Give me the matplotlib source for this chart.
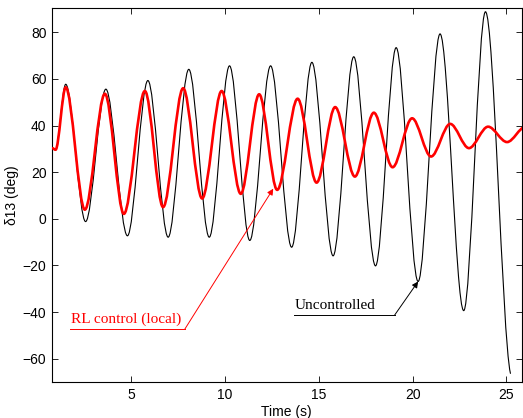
import matplotlib
matplotlib.use("Agg")
import matplotlib.pyplot as plt
from matplotlib.path import Path
from matplotlib.patches import PathPatch

# ---- data: extrema (time s, angle deg) ----
uncontrolled_t = [0.79, 0.97, 1.51, 2.57, 3.65, 4.80, 5.89, 6.97, 8.07, 9.16, 10.24, 11.32,
                  12.43, 13.55, 14.63, 15.76, 16.86, 18.02, 19.12, 20.29, 21.46, 22.72, 23.88, 25.21]
uncontrolled_v = [30.3, 29.6, 57.7, -1.2, 55.6, -7.3, 59.3, -7.9, 64.1, -7.9, 65.6, -9.3,
                  65.6, -12.2, 67.1, -15.9, 69.5, -20.2, 73.4, -26.9, 79.3, -39.4, 88.8, -66.3]
uncontrolled_end_slope = -35.0

rl_t = [0.79, 0.97, 1.51, 2.53, 3.60, 4.61, 5.73, 6.70, 7.77, 8.78, 9.82, 10.84, 11.82, 12.78,
        13.87, 14.88, 15.87, 16.92, 17.93, 18.93, 19.97, 20.98, 22.0, 23.0, 24.02, 25.03, 26.02]
rl_v = [30.3, 29.6, 56.4, 3.9, 53.6, 2.1, 54.8, 5.0, 56.0, 8.7, 54.8, 10.7, 53.4, 12.4,
        51.5, 15.5, 47.9, 18.1, 45.5, 22.1, 43.1, 26.7, 40.7, 30.3, 39.5, 32.9, 39.5]

x_ticks = [5, 10, 15, 20, 25]
y_ticks = [-60, -40, -20, 0, 20, 40, 60, 80]
x_limits = (0.78, 25.8)
y_limits = (-70, 90.4)

# annotation anchors (data coords): underline start, elbow, arrow tip
rl_label = "RL control (local)"
rl_line_start, rl_elbow, rl_tip = (1.73, -47.3), (7.86, -47.3), (12.57, 12.9)
unc_label = "Uncontrolled"
unc_line_start, unc_elbow, unc_tip = (13.68, -41.3), (19.04, -41.3), (20.29, -26.9)


def draw_curve(ax, t, v, end_slope=0.0, **kw):
    verts = [(t[0], v[0])]
    codes = [Path.MOVETO]
    n = len(t)
    for i in range(n - 1):
        d = (t[i + 1] - t[i]) / 3.0
        s1 = end_slope if i == n - 2 else 0.0
        verts += [(t[i] + d, v[i]), (t[i + 1] - d, v[i + 1] - s1 * d), (t[i + 1], v[i + 1])]
        codes += [Path.CURVE4] * 3
    ax.add_patch(PathPatch(Path(verts, codes), fill=False, **kw))


fig = plt.figure(figsize=(5.23, 4.18), dpi=100)
W, H = 523, 418
ax = fig.add_axes([52 / W, 1 - 382 / H, (521.5 - 52) / W, (382 - 8) / H])

draw_curve(ax, uncontrolled_t, uncontrolled_v, end_slope=uncontrolled_end_slope,
           edgecolor="black", linewidth=0.8, zorder=2, capstyle="round", joinstyle="round")
draw_curve(ax, rl_t, rl_v, edgecolor="#ff0000", linewidth=1.9, zorder=3,
           capstyle="round", joinstyle="round")

ax.set_xlim(*x_limits)
ax.set_ylim(*y_limits)
ax.set_xticks(x_ticks)
ax.set_yticks(y_ticks)

sans = "Liberation Sans"
serif = "Liberation Serif"
ax.tick_params(direction="in", top=True, right=True, length=4, width=0.6,
               labelsize=10, pad=4)
for lab in ax.get_xticklabels() + ax.get_yticklabels():
    lab.set_fontfamily(sans)
for sp in ax.spines.values():
    sp.set_linewidth(0.8)

ax.set_xlabel("Time (s)", fontfamily=sans, fontsize=10, labelpad=2.5)
ax.set_ylabel("δ13 (deg)", fontfamily=sans, fontsize=10, labelpad=3)

# annotations (MATLAB-style text arrows)
for label, start, elbow, tip, col in [
    (rl_label, rl_line_start, rl_elbow, rl_tip, "#ff0000"),
    (unc_label, unc_line_start, unc_elbow, unc_tip, "black"),
]:
    ax.plot([start[0], elbow[0]], [start[1], elbow[1]], color=col, linewidth=0.7, zorder=4)
    ax.annotate("", xy=tip, xytext=elbow,
                arrowprops=dict(arrowstyle="-|>", color=col, lw=0.7, mutation_scale=9,
                                shrinkA=0, shrinkB=0), zorder=4)
    ax.annotate(label, xy=start, xytext=(0.5, 2.0), textcoords="offset points",
                ha="left", va="bottom", color=col, fontfamily=serif, fontsize=11, zorder=4)

fig.savefig("out.png", dpi=100)
